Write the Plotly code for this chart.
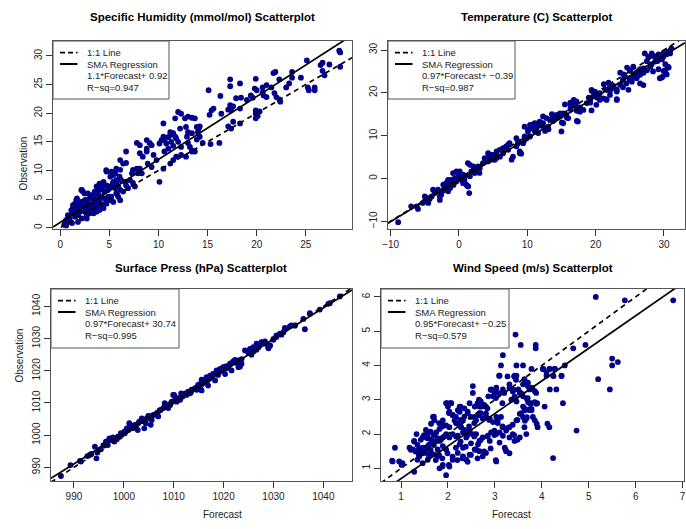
import plotly.graph_objects as go

W, H = 686, 529
FONT = "Liberation Sans, Arial, Helvetica, sans-serif"

# ---------------- data (forecast, observation) ----------------
hum_pts = [
(28.4,30.9),(28.5,30.6),(25.1,29.2),(26.7,28.8),(26.5,28.4),(27.4,28.5),(28.5,28.1),(26.7,27.4),(26.9,26.6),
(21.7,27.0),(21.9,27.2),(23.6,27.2),(23.6,26.2),(24.5,26.2),(22.3,25.9),(23.3,25.2),(19.9,26.0),
(25.2,24.5),(25.9,24.5),(25.3,24.0),(25.9,24.0),(23.0,24.5),(21.0,24.9),(21.5,24.5),(20.6,24.5),(19.8,24.3),(20.0,24.0),
(20.6,23.6),(21.8,23.5),(22.0,22.8),(21.0,22.8),(20.7,23.1),(22.3,22.4),(22.4,22.0),(19.4,23.1),(19.6,22.7),(19.0,22.3),
(18.3,25.2),(17.3,25.9),(17.3,24.7),(16.3,23.0),(17.9,22.6),(18.4,22.7),(18.3,20.8),(17.6,21.2),(17.3,21.4),(17.4,20.5),(17.1,20.6),
(17.6,18.5),(18.3,18.2),(17.1,17.7),(17.4,17.3),(19.9,20.5),(19.9,19.1),(20.1,19.5),(20.3,20.3),(19.9,19.9),
(15.4,20.5),(15.6,20.8),(15.2,19.7),(16.4,19.9),(15.1,24.0),(14.2,17.7),(14.5,14.8),(16.2,14.8),(15.3,14.6),
(12.0,20.2),(12.3,19.9),(11.7,19.1),(12.7,19.1),(13.0,19.4),(13.4,19.2),(13.7,19.1),(12.2,17.3),(12.8,17.6),
(13.9,17.6),(14.1,17.3),(14.0,16.7),(13.0,16.7),(12.9,15.9),(13.4,16.5),(14.2,15.9),(13.9,15.4),
(11.2,16.7),(11.2,16.2),(11.0,15.8),(11.5,16.5),(11.7,15.9),(11.8,15.6),(10.5,18.2),(10.5,15.9),(10.6,15.3),(10.3,15.3),
(10.1,14.7),(10.8,14.7),(11.3,15.0),(11.5,14.3),(12.0,15.0),(12.3,14.1),(11.0,13.8),(10.6,13.3),(12.3,12.7),(12.8,12.4),(13.4,13.5),
(13.0,14.8),(13.2,14.1),(13.4,13.3),(13.7,13.3),(11.8,12.4),(11.2,11.2),(11.5,11.8),(10.5,10.3),(10.1,8.0),(9.5,12.7),(9.8,11.8),
(8.8,15.3),(9.1,14.8),(9.3,14.4),(7.8,14.8),(8.1,14.4),(8.8,13.8),(8.8,13.3),(8.1,13.0),(8.4,12.4),(8.9,11.2),(9.3,10.6),
(8.1,10.3),(8.3,9.5),(7.8,10.3),(7.9,9.5),(7.3,9.5),(7.4,10.1),(6.7,13.3),(6.1,11.8),(6.4,11.2),(6.7,11.3),(5.7,10.3),(6.1,10.1),
(4.7,9.8),(5.2,9.8),(5.6,9.5),(5.1,8.9),(5.4,9.2),(6.2,8.3),(6.6,8.0),(7.1,8.3),(7.4,7.8),(7.6,7.2),(6.7,7.4),(6.9,6.9),
(5.4,8.0),(5.7,7.7),(5.9,7.2),(4.4,8.0),(4.7,7.4),(4.0,7.7),(3.7,7.2),(4.0,6.9),(3.5,6.3),(2.2,6.6),(2.3,6.3),
(2.8,6.0),(3.2,5.7),(3.4,5.4),(3.9,5.7),(4.2,5.4),(4.5,5.1),(4.9,5.4),(5.1,4.8),(5.4,4.5),(5.7,6.0),(5.9,5.4),(6.1,4.8),
(4.7,4.2),(4.4,4.0),(4.0,4.5),(3.7,4.1),(3.4,4.5),(3.0,4.0),(2.7,4.2),(2.3,3.7),(2.0,4.5),(1.8,4.0),(1.5,4.2),
(1.3,3.4),(1.7,3.1),(2.0,2.8),(2.5,2.8),(2.8,3.4),(3.2,3.1),(3.5,3.4),(3.9,3.7),(4.2,4.0),(1.2,2.5),(0.8,1.9),(0.6,1.3),
(1.5,1.9),(1.8,2.2),(2.2,1.6),(1.0,1.0),(0.5,0.8),(0.4,0.5),(0.6,0.4),(1.2,0.8),(2.7,2.2),(3.0,2.5),(3.4,2.5),(3.7,2.8),
(2.5,4.8),(2.8,4.8),(1.7,5.1),(4.0,3.1),(4.4,3.4),(4.7,4.8),(5.2,5.4),(5.1,7.2),(5.6,6.9),(6.1,6.6),(6.4,6.3),(2.7,1.6),(1.8,1.0),
(0.61,1.05),(0.95,1.63),(1.29,2.5),(1.46,3.37),(1.8,3.66),(1.97,4.24),(2.31,4.53),(2.65,4.83),(2.99,5.12),(3.32,5.41),
(3.66,6.28),(4.0,6.57),(4.34,7.15),(2.14,6.57),(2.48,5.99),(1.29,3.95),(1.63,4.83),(0.78,2.21),(1.12,3.08),(2.82,3.37),
(3.15,3.95),(3.49,4.24),(3.83,4.83),(4.17,5.41),(4.51,6.28),(4.85,6.57),(5.02,7.15),(5.36,7.73),(5.7,8.31),(6.04,8.9),
(4.68,10.06),(5.19,9.48),
]

temp_pts = [
(-8.9,-10.2),(-7.0,-6.5),(-6.0,-7.1),(-6.2,-6.5),(-5.3,-5.7),(-5.0,-5.3),(-4.5,-5.7),(-4.0,-4.2),(-4.3,-4.8),
(-3.8,-2.6),(-3.3,-3.0),(-2.8,-5.0),(-2.8,-4.2),(-2.6,-3.4),(-2.3,-2.8),(-2.1,-1.9),(-1.8,-2.5),(-1.6,-3.0),(-1.3,-2.2),
(-1.3,-0.9),(-0.8,-1.5),(-0.6,0.1),(-0.4,-0.7),(-0.1,1.3),(0.1,0.5),(0.35,-0.3),(0.6,-1.1),(1.1,-1.5),(1.3,-1.8),(1.5,-3.4),
(0.8,-0.3),(1.6,0.5),(1.3,3.6),(1.6,3.2),(2.1,2.8),(2.3,2.0),(2.55,1.65),(3.0,1.3),(3.5,3.6),(4.0,4.4),(4.5,5.1),(5.0,5.5),
(5.5,4.8),(6.0,5.1),(6.45,7.1),(6.9,7.5),(7.7,4.4),(7.9,5.1),(8.4,7.5),(8.9,6.3),(8.9,5.9),(9.1,5.8),(9.4,8.25),(9.6,9.0),
(9.9,9.4),(10.4,9.8),(9.6,12.1),(10.1,11.4),(10.9,12.1),(11.3,12.5),(11.8,13.3),(12.3,12.9),(11.1,11.0),(11.6,10.6),
(12.55,11.7),(13.05,12.1),(13.3,13.7),(13.8,14.1),(14.3,14.85),(14.8,15.2),(15.0,11.0),(15.25,12.9),(15.7,14.85),(16.0,14.1),
(16.3,17.2),(16.8,17.6),(17.2,16.8),(17.4,13.3),(17.7,15.6),(18.2,16.0),(18.7,17.6),(19.2,18.35),(19.4,15.9),(20.1,17.2),
(20.6,18.35),(21.1,18.7),(21.6,18.35),(22.1,19.5),(19.4,20.7),(19.9,20.3),(20.6,19.9),(22.6,21.1),(23.1,20.3),(23.1,18.35),
(23.6,21.9),(24.0,21.3),(24.5,22.2),(24.8,20.7),(25.0,23.0),(25.3,22.6),(25.5,23.8),(26.0,23.4),(26.2,25.0),(26.7,24.6),
(27.0,25.7),(27.5,25.3),(28.0,26.1),(28.4,25.0),(28.7,27.3),(29.2,27.7),(29.4,28.1),(29.9,28.4),(30.2,29.2),(30.6,29.6),
(31.1,30.4),(30.9,29.2),(29.4,23.4),(29.8,23.8),(30.2,25.3),(30.6,26.1),(26.5,22.2),(27.0,21.8),(26.0,24.6),(26.5,24.2),
(27.2,29.2),(27.7,28.4),(28.2,29.2),(28.7,28.4),(25.5,26.1),(25.0,25.3),(24.0,23.0),(24.3,23.8),(22.1,21.5),(21.6,20.7),
(19.9,19.5),(20.4,19.1),(17.2,18.0),(16.8,18.35),(14.8,14.85),(15.25,15.2),(12.3,14.5),(12.8,14.1),(10.4,12.5),(10.6,11.7),
(8.4,9.4),(8.65,8.6),(7.4,8.25),(7.2,7.9),(5.96,6.7),(5.5,6.3),(4.75,4.4),(4.26,4.0),(3.04,2.4),(2.8,2.8),(2.3,1.26),(1.8,1.65),
(0.6,0.87),(0.11,1.65),(-0.38,0.1),(-0.6,-0.68),(-1.84,-1.07),(-2.3,-1.46),(-3.06,-2.6),(-3.55,-3.4),(-4.5,-4.6),(-5.0,-4.2),
(28.5,28.6),(29.2,29.0),(29.95,29.4),(30.4,29.0),(30.9,29.8),(29.7,27.8),(29.0,27.4),(28.2,26.7),(27.5,27.4),(30.2,26.7),
(30.7,25.9),(29.95,25.1),(29.2,25.5),(30.4,24.3),(29.7,23.55),(24.6,25.9),(25.1,25.1),(25.6,24.3),(26.0,24.7),(26.5,25.5),
(27.0,24.7),(26.0,23.55),(25.1,23.55),(24.1,24.3),(23.6,24.7),(21.2,22.0),(21.9,22.4),(22.6,21.6),(23.1,20.8),(22.1,20.4),
(21.4,20.8),(23.1,18.5),(21.6,18.5),(19.45,20.45),(19.7,19.3),(20.2,18.9),(19.0,18.9),(19.2,17.7),(15.5,17.3),(16.3,17.7),
(16.8,17.0),(17.25,15.8),(16.3,16.2),(17.7,16.6),(13.6,15.0),(14.3,14.2),(14.8,14.6),(15.8,14.2),(17.25,13.45),(15.05,13.1),
(13.8,13.45),(10.9,12.7),(11.4,11.9),(12.1,12.3),(12.6,11.1),(13.1,11.5),
(-4.5,-5.0),(-2.6,-3.8),(-1.84,-2.2),(-1.36,-1.46),(-1.1,-0.3),(-0.6,-0.7),(-0.13,0.1),(0.35,-0.3),(0.84,-1.07),(1.33,-1.84),
(0.84,0.49),(0.11,0.87),(-0.38,1.65),(-0.87,1.26),(-1.6,-0.3),(-1.84,-1.07),(2.3,2.4),(2.8,2.0),(4.26,5.9),(4.75,5.5),
(3.77,4.75),(4.26,4.0),(5.24,4.37),(6.46,5.9),(7.2,6.7),(8.65,8.25),(9.6,9.8),(10.1,11.0),(10.6,12.1),(11.1,12.9),
]

pres_pts = [
(987.4,987.3),(989.3,990.7),(991.2,992.0),(993.1,993.8),(993.5,994.1),(994.2,996.4),(994.5,992.8),(995.2,995.6),(995.9,996.9),
(996.6,998.0),(997.2,998.5),(997.9,999.0),(998.6,998.7),(999.2,999.5),(999.6,1000.1),(1000.2,1000.6),(1000.9,1001.6),
(1001.2,1002.7),(1001.6,1002.1),(1002.2,1003.2),(1002.9,1003.7),(1003.2,1004.2),(1003.9,1004.7),(1004.6,1005.2),(1005.2,1005.8),
(1005.9,1006.3),(1006.6,1006.8),(1007.2,1007.8),(1007.9,1008.4),(1008.6,1008.9),(1009.3,1009.4),(1009.9,1012.5),(1009.6,1010.4),
(1010.3,1011.0),(1010.9,1011.5),(1011.6,1012.0),(1012.3,1013.0),(1012.9,1013.5),(1013.6,1014.1),(1014.3,1014.6),(1014.9,1015.6),
(1015.6,1017.2),(1015.9,1016.1),(1016.6,1016.7),(1017.3,1017.7),(1017.9,1018.7),(1018.6,1019.3),(1019.3,1019.8),(1019.9,1020.3),
(1020.6,1020.8),(1021.3,1021.9),(1022.0,1022.9),(1022.6,1022.4),(1023.3,1021.3),(1024.3,1026.3),(1025.0,1025.5),(1025.6,1025.0),
(1026.3,1026.7),(1027.0,1027.3),(1027.6,1028.8),(1028.3,1029.1),(1029.0,1027.0),(1029.3,1027.8),(1030.0,1029.6),(1030.6,1030.5),
(1031.6,1031.2),(1032.3,1033.3),(1033.3,1033.8),(1034.3,1034.0),(1036.3,1032.9),(1036.0,1036.1),(1037.3,1037.9),(1039.3,1039.0),
(1041.3,1041.0),(1043.3,1043.1),
(1000.6,1002.1),(1001.9,1002.9),(1003.6,1005.2),(1004.9,1006.0),(1005.6,1004.7),(1006.9,1005.8),(1008.2,1009.9),(1008.9,1008.4),
(1010.6,1010.4),(1011.3,1011.0),(1012.6,1012.5),(1013.3,1013.0),(1014.6,1014.1),(1015.3,1015.1),(1016.9,1017.2),(1017.6,1018.2),
(1018.9,1018.7),(1019.6,1020.3),(1020.3,1021.3),(1020.9,1021.1),(1021.6,1022.4),(1022.3,1023.4),(1023.0,1023.2),(1023.6,1023.6),
(1026.0,1026.0),(1026.6,1026.5),(1027.3,1028.1),(1028.0,1028.6),
(991.4,991.8),(992.7,993.5),(993.4,994.1),(994.7,994.6),(995.4,995.6),(996.4,998.0),(997.1,999.0),(997.8,999.3),
(998.8,999.5),(999.4,1000.6),(1000.1,1001.1),(1001.1,1003.7),(1001.8,1002.7),(1002.4,1002.1),(1003.1,1004.2),(1003.8,1004.7),
(1004.4,1003.7),(1005.4,1005.8),(1006.1,1006.3),(1006.8,1007.0),(1007.4,1007.8),(1008.1,1008.7),(1008.8,1009.4),(1009.5,1010.1),
(1010.5,1010.7),(1011.1,1011.5),(1011.8,1012.0),(1012.8,1013.0),(1013.5,1013.5),(1014.1,1014.3),(1014.8,1015.1),(1015.5,1015.6),
(1010.1,1012.5),(1011.5,1013.0),(1002.8,1001.6),(1004.1,1002.1),(1005.4,1003.2),(998.1,998.0),(996.8,996.9),
(1014.6,1014.4),(1015.3,1015.9),(1015.9,1017.0),(1016.6,1018.0),(1017.3,1018.5),(1017.9,1019.0),(1018.6,1020.1),(1019.3,1020.6),
(1019.9,1021.1),(1020.6,1021.4),(1021.3,1022.2),(1021.95,1022.9),(1022.6,1022.5),(1023.3,1023.2),(1015.6,1013.9),(1016.9,1015.4),
(1018.3,1017.0),(1020.3,1019.0),(1021.6,1020.1),(1023.0,1021.1),(1023.6,1022.2),(1025.3,1026.8),(1025.95,1027.3),(1026.6,1028.4),
(1027.6,1028.9),(1028.3,1028.4),(1028.97,1027.3),(1029.3,1027.9),(1030.0,1029.9),(1030.6,1031.0),(1031.3,1031.5),(1032.0,1032.0),
(1032.3,1033.0),(1033.6,1034.1),(1034.3,1034.1),(1037.3,1037.7),(1041.0,1040.8),
]

wind_pts = [
(5.15,6.0),(5.77,5.9),(6.8,5.9),(3.44,4.9),(3.55,4.6),(3.87,4.6),(3.87,4.5),(4.67,4.5),(4.93,4.6),(3.17,4.3),(5.5,4.2),
(5.5,4.0),(5.62,4.1),(3.13,4.0),(3.46,4.0),(3.6,4.0),(4.02,3.9),(4.17,3.9),(4.27,3.9),(4.49,4.0),(3.78,3.9),
(3.1,3.7),(3.42,3.7),(3.46,3.7),(3.63,3.6),(3.7,3.5),(3.78,3.35),(3.74,3.3),(4.1,3.7),(4.24,3.7),(4.42,3.7),(5.2,3.6),
(5.45,3.3),(4.17,3.3),(4.31,3.3),(4.45,2.9),(4.06,2.8),(4.74,2.1),(4.24,1.3),(3.03,3.35),(2.92,3.3),(2.99,3.2),
(3.17,3.3),(3.2,3.2),(3.31,3.45),(2.53,3.4),(2.86,3.1),(2.96,3.1),(3.38,3.25),(3.42,3.1),(3.53,3.2),(3.6,3.1),(3.88,3.2),
(3.9,2.9),(3.35,3.0),(3.46,2.95),(2.66,3.0),(2.46,2.9),(2.57,2.8),(2.67,2.8),(2.81,2.8),(1.96,2.9),(2.07,2.9),(2.0,2.8),
(2.25,2.8),(2.35,2.75),(1.89,2.4),(2.25,2.65),(1.68,2.5),(1.71,2.4),(1.64,2.3),(1.85,2.3),(1.96,2.25),(2.03,2.2),
(2.14,2.4),(2.21,2.3),(2.32,2.4),(2.42,2.65),(2.49,2.5),(2.57,2.5),(2.6,2.4),(2.67,2.55),(2.74,2.45),(2.81,2.6),(2.89,2.45),
(2.96,2.35),(3.03,2.5),(3.06,2.4),(3.13,2.5),(3.17,2.2),(3.24,2.1),(3.31,2.2),(2.99,2.1),(3.03,2.0),(3.46,2.4),(3.6,2.5),
(3.67,2.45),(3.42,1.8),(3.21,1.6),(3.24,1.5),(3.03,1.2),(3.1,1.75),(2.89,1.8),(2.74,1.9),(2.6,2.0),(2.67,1.8),(2.46,2.1),
(2.53,2.0),(2.39,1.9),(2.28,2.2),(2.32,2.05),(2.21,1.95),(2.1,2.0),(2.03,1.9),(1.96,2.0),(1.89,1.9),(1.82,1.8),(1.75,1.8),
(1.68,1.75),(1.6,1.7),(1.53,1.6),(1.46,1.6),(1.39,1.55),(1.32,1.5),(1.25,1.55),(1.18,1.6),(1.28,1.8),(1.33,2.0),(0.87,1.6),
(0.82,1.2),(0.96,1.2),(1.01,1.1),(1.28,0.9),(1.46,1.15),(1.57,1.25),(1.64,1.45),(1.71,1.4),(1.78,1.35),(1.82,1.0),(1.89,1.1),
(1.96,0.8),(2.03,1.05),(2.1,1.25),(2.21,1.45),(2.32,1.35),(2.39,1.25),(2.46,1.4),(2.57,1.55),(2.64,1.7),(2.74,1.35),(2.81,1.45),
(1.46,1.9),(1.57,2.0),(1.64,1.85),(1.75,2.05),(1.82,2.15),(2.03,2.65),(2.1,2.55),(2.17,2.5),(2.21,2.7),(2.53,3.2),(2.67,2.6),
(2.71,2.8),(3.6,2.8),(3.74,2.7),(3.81,2.5),(3.85,2.4),(3.67,2.0),(3.63,2.2),(3.31,1.9),(3.38,2.0),(3.17,1.95),(3.1,2.05),
(2.85,1.95),(2.92,2.05),(2.6,1.55),(2.67,1.5),(2.25,1.7),(2.32,1.6),(2.17,1.6),(1.89,1.65),(1.96,1.55),(1.78,1.55),(1.53,1.45),
(1.6,1.35),(1.39,1.35),(1.35,1.25),(4.12,2.3),(4.16,2.2),(3.89,2.3),(3.91,2.2),(3.64,2.39),(3.68,2.49),(3.53,1.9),(3.78,2.73),
(3.88,2.88),(4.03,3.9),(4.16,3.9),(4.28,3.9),(4.1,3.8),(4.25,3.69),(4.42,3.69),(3.68,3.03),(3.71,2.93),(3.75,2.88),(3.85,2.93),
(3.78,2.69),(3.64,2.69),(3.53,2.59),(3.5,3.3),(3.6,3.45),(3.7,3.4),(3.85,3.25),
(0.81,1.22),(1.03,1.15),(1.28,1.78),(1.35,1.68),(1.21,1.54),(1.31,1.49),(1.38,1.39),(1.46,1.44),(1.49,1.58),(1.56,1.63),
(1.63,1.54),(1.7,1.68),(1.63,2.07),(1.7,1.97),(1.78,1.88),(1.85,1.83),(1.92,1.93),(1.7,2.51),(1.81,2.32),(1.88,2.22),
(1.99,2.9),(2.06,2.9),(2.02,2.61),(2.1,2.56),(2.27,2.8),(2.24,2.66),(2.35,2.51),(2.42,2.61),(2.63,2.9),(2.7,2.95),(2.77,2.85),
(2.84,2.75),(2.7,2.61),(2.81,2.51),(2.88,2.41),(2.91,3.29),(3.02,3.29),(3.09,3.19),(3.02,3.05),(3.16,2.9),(3.09,3.7),(3.27,3.68),
(3.41,3.68),(3.45,3.58),(3.31,3.34),(3.41,3.29),(3.56,3.19),(3.70,3.49),(3.8,3.34),(3.70,3.05),(3.77,2.9),(1.99,1.44),(2.1,1.34),
(2.2,1.24),(2.31,1.29),(2.42,1.19),(2.49,1.39),(2.63,1.29),(2.77,1.49),(2.91,1.58),(3.02,1.24),(3.23,1.54),(3.31,1.44),
(2.42,1.97),(2.56,1.93),(2.7,1.83),(2.84,1.93),(2.99,1.97),(3.06,2.32),(3.16,2.22),(3.27,2.17),(3.38,2.27),(3.48,2.41),
(3.41,1.97),(3.48,1.83),(3.56,2.61),(3.63,2.75),(3.73,2.71),(2.17,2.32),(2.27,2.22),(2.35,2.12),(2.45,2.22),(2.56,2.32),
(2.27,2.41),(2.17,1.93),(2.27,1.78),(2.38,1.63),(2.49,1.73),(2.59,1.54),(1.49,1.97),(1.56,1.88),(1.42,1.83),(1.53,2.12),
(1.81,1.39),(1.88,1.29),(1.74,1.24),(1.88,1.05),(2.02,1.1),
]

titles = ["Specific Humidity (mmol/mol) Scatterplot", "Temperature (C) Scatterplot",
          "Surface Press (hPa) Scatterplot", "Wind Speed (m/s) Scatterplot"]
slopes = [1.1, 0.97, 0.97, 0.95]
intercepts = [0.92, -0.39, 30.74, -0.25]
eq_labels = ["1.1*Forecast+ 0.92", "0.97*Forecast+ \u22120.39", "0.97*Forecast+ 30.74", "0.95*Forecast+ \u22120.25"]
rsq_labels = ["R\u2212sq=0.947", "R\u2212sq=0.987", "R\u2212sq=0.995", "R\u2212sq=0.579"]
x_ticks = [[0, 5, 10, 15, 20, 25], [-10, 0, 10, 20, 30], [990, 1000, 1010, 1020, 1030, 1040], [1, 2, 3, 4, 5, 6, 7]]
y_ticks = [[0, 5, 10, 15, 20, 25, 30], [-10, 0, 10, 20, 30], [990, 1000, 1010, 1020, 1030, 1040], [1, 2, 3, 4, 5, 6]]
x_ranges = [[-0.74, 29.7], [-10.39, 33.08], [985.4, 1045.75], [0.573, 7.03]]
y_ranges = [[-0.23, 32.6], [-11.79, 32.1], [985.75, 1045.4], [0.63, 6.23]]
all_pts = [hum_pts, temp_pts, pres_pts, wind_pts]

# ---------------- layout geometry (pixels) ----------------
boxes = [(53, 352, 41, 229), (388, 685, 41, 229), (51, 352, 289, 481), (381, 684, 289, 481)]
legend_w = [116, 127, 128, 128]
legend_h = [58, 58, 59, 59]
row_off = [11.7, 23.0, 34.8, 46.8]

def fx(p):
    return p / W

def fy(p):
    return 1 - p / H

PT_COLOR = "#00008B"
fig = go.Figure()
layout = dict(width=W, height=H, margin=dict(l=0, r=0, t=0, b=0),
              paper_bgcolor="white", plot_bgcolor="white", showlegend=False,
              font=dict(family=FONT, color="#222"))
shapes, annots = [], []

for i in range(4):
    n = "" if i == 0 else str(i + 1)
    x0, x1, y0, y1 = boxes[i]
    xs = [p[0] for p in all_pts[i]]
    ys = [p[1] for p in all_pts[i]]
    fig.add_trace(go.Scatter(x=xs, y=ys, mode="markers", xaxis="x" + n, yaxis="y" + n,
                             marker=dict(color=PT_COLOR, size=5.8, line=dict(width=0)),
                             hoverinfo="skip"))
    xr = x_ranges[i]
    # 1:1 line
    fig.add_trace(go.Scatter(x=xr, y=xr, mode="lines", xaxis="x" + n, yaxis="y" + n,
                             line=dict(color="black", width=1.7, dash="5px,4px"), hoverinfo="skip"))
    # SMA regression line
    fig.add_trace(go.Scatter(x=xr, y=[slopes[i] * v + intercepts[i] for v in xr], mode="lines",
                             xaxis="x" + n, yaxis="y" + n,
                             line=dict(color="black", width=1.7), hoverinfo="skip"))
    axis_common = dict(ticks="outside", ticklen=6, tickwidth=1, tickcolor="#333",
                       showline=True, mirror=True, linecolor="#555", linewidth=1,
                       showgrid=False, zeroline=False, automargin=False,
                       tickfont=dict(family=FONT, size=10, color="#222"))
    layout["xaxis" + n] = dict(domain=[fx(x0), fx(x1)], range=xr, anchor="y" + n,
                               tickvals=x_ticks[i], **axis_common)
    layout["yaxis" + n] = dict(domain=[fy(y1), fy(y0)], range=y_ranges[i], anchor="x" + n,
                               tickvals=y_ticks[i], tickangle=-90, **axis_common)
    # title
    annots.append(dict(text="<b>" + titles[i] + "</b>", x=fx((x0 + x1) / 2), y=fy(17.5 if i < 2 else 267.5),
                       xref="paper", yref="paper", showarrow=False, xanchor="center", yanchor="middle",
                       font=dict(family=FONT, size=11.5, color="black")))
    # legend box
    lx0, ly0 = x0, y0
    shapes.append(dict(type="rect", xref="paper", yref="paper", x0=fx(lx0), x1=fx(lx0 + legend_w[i]),
                       y0=fy(ly0), y1=fy(ly0 + legend_h[i]), line=dict(color="#555", width=1),
                       fillcolor="white", layer="above"))
    shapes.append(dict(type="line", xref="paper", yref="paper", x0=fx(lx0 + 7), x1=fx(lx0 + 24.5),
                       y0=fy(ly0 + row_off[0]), y1=fy(ly0 + row_off[0]),
                       line=dict(color="black", width=1.8, dash="5px,3px")))
    shapes.append(dict(type="line", xref="paper", yref="paper", x0=fx(lx0 + 7), x1=fx(lx0 + 24.5),
                       y0=fy(ly0 + row_off[1]), y1=fy(ly0 + row_off[1]),
                       line=dict(color="black", width=2)))
    for k, txt in enumerate(["1:1 Line", "SMA Regression", eq_labels[i], rsq_labels[i]]):
        annots.append(dict(text=txt, x=fx(lx0 + 32), y=fy(ly0 + row_off[k]), xref="paper", yref="paper",
                           showarrow=False, xanchor="left", yanchor="middle",
                           font=dict(family=FONT, size=9.5, color="#222")))

# axis titles
annots.append(dict(text="Observation", x=fx(15), y=fy(135), xref="paper", yref="paper", showarrow=False,
                   textangle=-90, font=dict(family=FONT, size=10, color="#222")))
annots.append(dict(text="Observation", x=fx(11), y=fy(385), xref="paper", yref="paper", showarrow=False,
                   textangle=-90, font=dict(family=FONT, size=10, color="#222")))
annots.append(dict(text="Forecast", x=fx(201.5), y=fy(522), xref="paper", yref="paper", showarrow=False,
                   font=dict(family=FONT, size=10, color="#222")))
annots.append(dict(text="Forecast", x=fx(532.5), y=fy(522), xref="paper", yref="paper", showarrow=False,
                   font=dict(family=FONT, size=10, color="#222")))

layout["shapes"] = shapes
layout["annotations"] = annots
fig.update_layout(**layout)
fig.write_html("out.html")
